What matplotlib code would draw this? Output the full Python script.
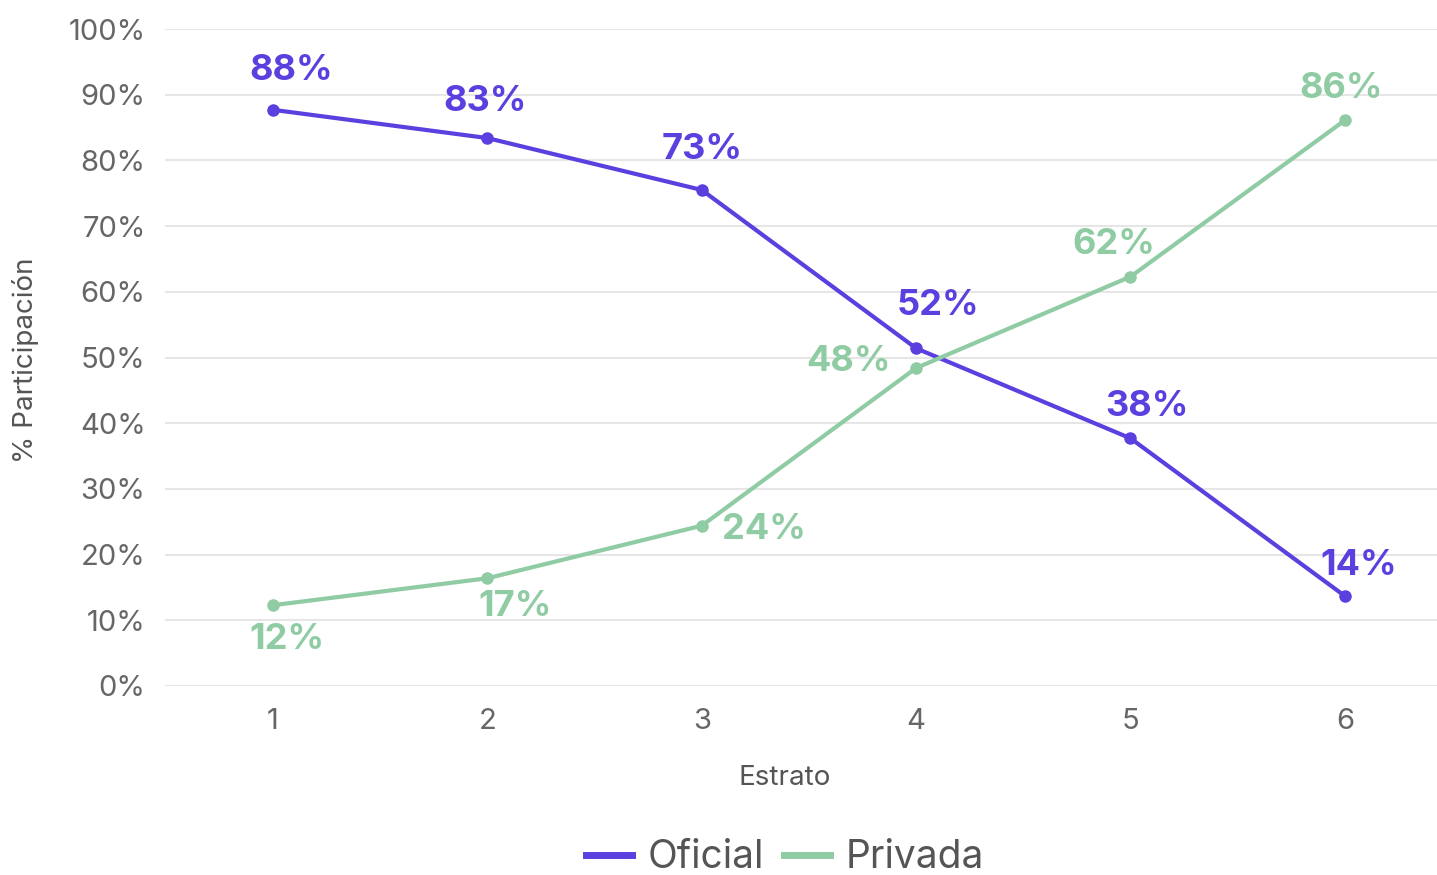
import matplotlib.pyplot as plt
from matplotlib.ticker import PercentFormatter

plt.rcParams['font.family'] = ['Inter', 'DejaVu Sans']

estratos = [1, 2, 3, 4, 5, 6]
oficial = [87.7, 83.4, 75.5, 51.4, 37.7, 13.7]
privada = [12.3, 16.4, 24.4, 48.4, 62.3, 86.1]
oficial_labels = ['88%', '83%', '73%', '52%', '38%', '14%']
privada_labels = ['12%', '17%', '24%', '48%', '62%', '86%']

purple = '#5b3fdf'
green = '#8fcba3'

# label offsets in points (dx, dy)
oficial_off = [(13, 28), (-2, 26), (0, 29), (16, 31), (12, 23), (10, 22)]
privada_off = [(10, -25), (20, -20), (45, -3), (-49, 5), (-12, 23), (-3, 23)]

fig = plt.figure(figsize=(14.37, 8.75), dpi=100)
ax = fig.add_axes([165 / 1437, 1 - 686 / 875, 1272 / 1437, 657 / 875])

ax.plot(estratos, oficial, color=purple, lw=3, marker='o', ms=8, label='Oficial', zorder=3)
ax.plot(estratos, privada, color=green, lw=3, marker='o', ms=8, label='Privada', zorder=3)

for x, y, t, off in zip(estratos, oficial, oficial_labels, oficial_off):
    ax.annotate(t, (x, y), xytext=off, textcoords='offset points', ha='center', va='center',
                color=purple, fontsize=26, fontweight='bold')
for x, y, t, off in zip(estratos, privada, privada_labels, privada_off):
    ax.annotate(t, (x, y), xytext=off, textcoords='offset points', ha='center', va='center',
                color=green, fontsize=26, fontweight='bold')

ax.set_xlim(0.496, 6.43)
ax.set_ylim(0, 100)
ax.set_yticks(range(0, 101, 10))
ax.yaxis.set_major_formatter(PercentFormatter(decimals=0))
ax.set_xticks(estratos)
ax.grid(axis='y', color='#e6e6e6', lw=1.5)
ax.set_axisbelow(True)
for s in ax.spines.values():
    s.set_visible(False)
ax.tick_params(length=0, labelsize=21, labelcolor='#666666')
ax.tick_params(axis='x', pad=16)
ax.tick_params(axis='y', pad=14)
ax.set_xlabel('Estrato', fontsize=20, color='#555555')
ax.xaxis.set_label_coords((785 - 165) / 1272, -(765 - 686) / 657)
ax.set_ylabel('% Participación', fontsize=20, color='#555555')
ax.yaxis.set_label_coords(-(165 - 39) / 1272, (686 - 360) / 657)

leg = fig.legend(handles=ax.get_lines(), loc='center', bbox_to_anchor=(785 / 1437, 1 - 858 / 875),
                 ncol=2, frameon=False, fontsize=28, handlelength=1.2, handletextpad=0.4,
                 columnspacing=0.5, labelcolor='#555555')
for h in leg.legend_handles:
    h.set_marker('')
    h.set_linewidth(5)

fig.savefig('out.png', dpi=100)
